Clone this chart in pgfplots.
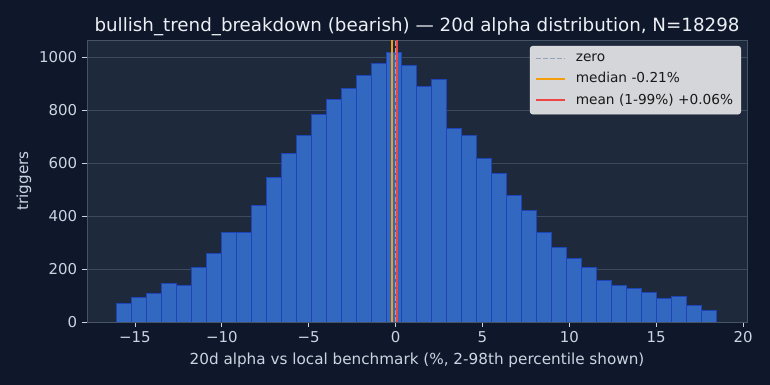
\documentclass[border=0pt]{standalone}
\usepackage{fontspec}
\setmainfont{DejaVu Sans}
\usepackage{pgfplots}
\pgfplotsset{compat=1.18}
\definecolor{figbg}{RGB}{15,23,42}
\definecolor{axbg}{RGB}{30,41,59}
\definecolor{barfill}{RGB}{50,104,192}
\definecolor{baredge}{RGB}{30,68,185}
\definecolor{gridc}{RGB}{60,74,94}
\definecolor{spine}{RGB}{70,84,104}
\definecolor{labc}{RGB}{203,213,225}
\definecolor{titc}{RGB}{236,240,245}
\definecolor{zeroc}{RGB}{148,163,184}
\definecolor{medc}{RGB}{245,158,11}
\definecolor{meanc}{RGB}{239,68,68}
\definecolor{legbg}{RGB}{212,214,218}
\definecolor{legedge}{RGB}{225,227,230}
\definecolor{legtext}{RGB}{25,25,25}
\begin{document}
\begin{tikzpicture}
\fill[figbg] (0,0) rectangle (554.4bp,277.2bp);
\useasboundingbox (0,0) rectangle (554.4bp,277.2bp);
\begin{axis}[
  at={(62.64bp,45.36bp)}, anchor=south west,
  scale only axis, width=475.2bp, height=203.04bp,
  xmin=-17.76, xmax=20.23, ymin=0, ymax=1064,
  axis background/.style={fill=axbg},
  axis line style={spine, line width=0.6bp},
  ymajorgrids, grid style={gridc, line width=0.6bp},
  xtick={-15,-10,-5,0,5,10,15,20},
  xticklabels={−15,−10,−5,0,5,10,15,20},
  ytick={0,200,400,600,800,1000},
  yticklabels={0,200,400,600,800,1000},
  tick align=outside, tick pos=left, major tick length=3.5bp,
  tick style={labc, line width=0.6bp},
  ticklabel style={font=\fontsize{10.8}{13}\selectfont, text=labc},
  xlabel={20d alpha vs local benchmark (\%, 2-98th percentile shown)},
  ylabel={triggers},
  every axis x label/.style={at={(axis description cs:0.5,-0.135)}, anchor=center, font=\fontsize{11}{13}\selectfont, text=labc},
  every axis y label/.style={at={(axis description cs:-0.0955,0.5)}, rotate=90, anchor=center, font=\fontsize{11}{13}\selectfont, text=labc},
  title={bullish\_trend\_breakdown (bearish) — 20d alpha distribution, N=18298},
  every axis title/.style={at={(axis description cs:0.5,1.047)}, anchor=center, font=\fontsize{13.2}{15}\selectfont, text=titc},
  legend style={at={(axis description cs:0.991,0.979)}, anchor=north east,
    fill=legbg, draw=legedge, rounded corners=2bp, text=legtext,
    font=\fontsize{9.9}{12}\selectfont, row sep=2.5bp, inner sep=3.5bp},
  legend image code/.code={\draw[#1] (0bp,0bp) -- (21bp,0bp); \path (26bp,0bp);},
  legend cell align=left,
  clip=true,
]
\addplot[ybar interval, fill=barfill, draw=baredge, line width=0.7bp, forget plot] coordinates {
(-16.05,71) (-15.187,91) (-14.324,108) (-13.461,146) (-12.598,139)
(-11.735,207) (-10.872,257) (-10.009,337) (-9.146,337) (-8.283,439)
(-7.42,545) (-6.557,635) (-5.694,702) (-4.831,783) (-3.968,838)
(-3.105,880) (-2.242,929) (-1.379,975) (-0.516,1017) (0.347,967)
(1.21,889) (2.073,914) (2.936,730) (3.799,702) (4.662,617)
(5.525,559) (6.388,477) (7.251,419) (8.114,339) (8.977,282)
(9.84,238) (10.703,207) (11.566,158) (12.429,139) (13.292,125)
(14.155,110) (15.018,87) (15.881,95) (16.744,64) (17.607,45)
(18.47,45)
};
\addplot[zeroc, line width=1.1bp, dash pattern=on 3.5bp off 1.6bp] coordinates {(0,0) (0,1064)};
\addlegendentry{zero}
\addplot[medc, line width=1.4bp] coordinates {(-0.21,0) (-0.21,1064)};
\addlegendentry{median -0.21\%}
\addplot[meanc, line width=1.4bp] coordinates {(0.06,0) (0.06,1064)};
\addlegendentry{mean (1-99\%) +0.06\%}
\end{axis}
\end{tikzpicture}
\end{document}
